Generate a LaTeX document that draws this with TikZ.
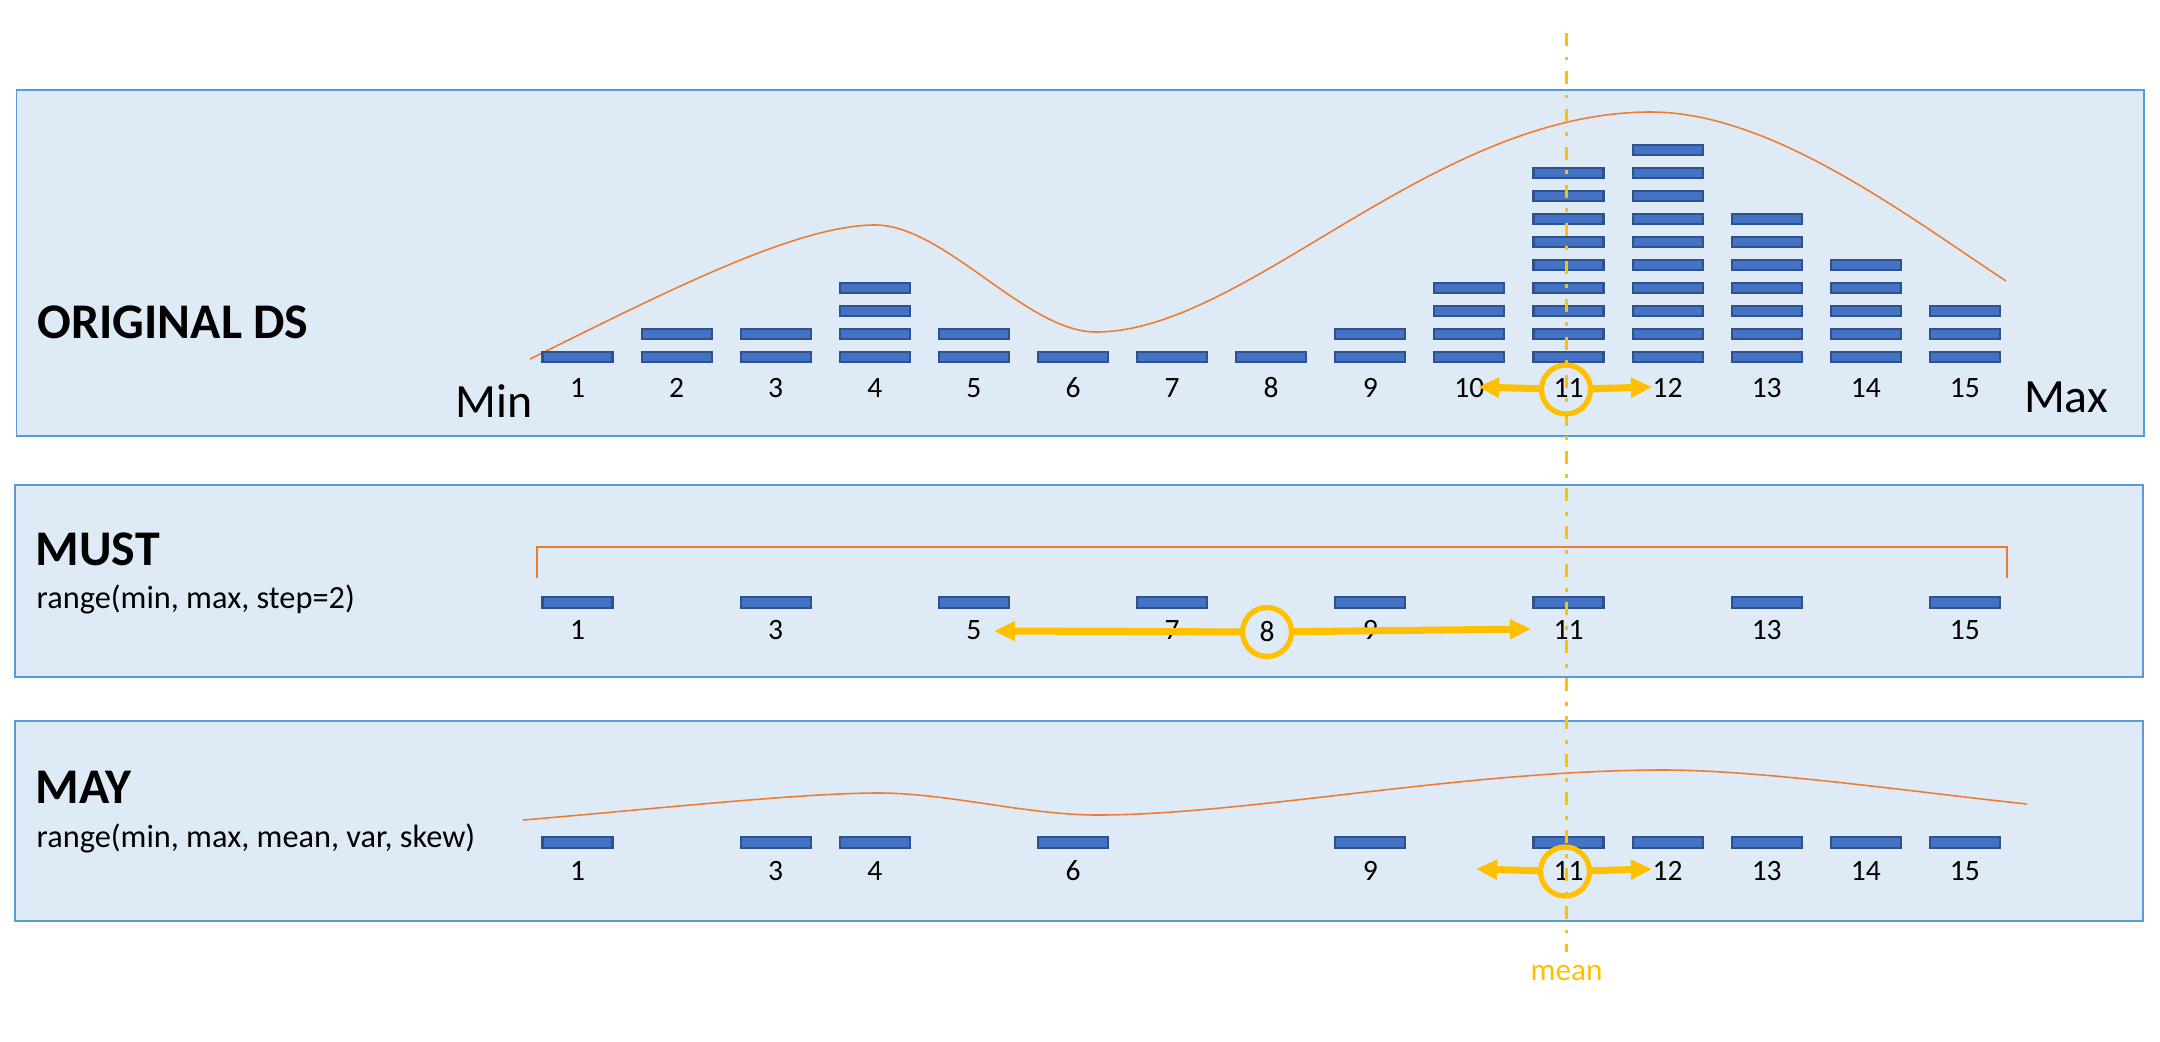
\documentclass[tikz,border=0pt]{standalone}
\usepackage{fontspec}
\setmainfont{Carlito}
\usetikzlibrary{arrows.meta}
\definecolor{panelfill}{HTML}{DEEBF7}
\definecolor{paneldraw}{HTML}{5B9BD5}
\definecolor{barfill}{HTML}{4472C4}
\definecolor{bardraw}{HTML}{2F528F}
\definecolor{curveorange}{HTML}{ED7D31}
\definecolor{meanyellow}{HTML}{FFC000}

\begin{document}
\begin{tikzpicture}[x=0.1mm, y=-0.1mm]
  \tikzset{panel/.style = {fill=panelfill, draw=paneldraw, line width=0.4pt}}
  \tikzset{bar/.style = {rectangle, fill=barfill, draw=bardraw, line width=0.6pt, minimum width=7mm, minimum height=1.07mm, inner sep=0}}
  \tikzset{num/.style = {font=\fontsize{8.4}{10}\selectfont, anchor=base}}
  \tikzset{title/.style = {font=\bfseries\fontsize{14.2}{17}\selectfont, anchor=west, inner sep=0}}
  \tikzset{call/.style = {font=\fontsize{9.2}{11}\selectfont, anchor=base west, inner sep=0}}
  \tikzset{bound/.style = {font=\fontsize{13.6}{16}\selectfont, anchor=base}}
  \tikzset{density/.style = {draw=curveorange, line width=0.45pt}}
  \tikzset{ring/.style = {circle, draw=meanyellow, line width=1.5pt, minimum size=4.9mm, inner sep=0}}
  \tikzset{move/.style = {draw=meanyellow, line width=2pt, -{Triangle[length=6pt, width=5.4pt]}}}
  \tikzset{meanline/.style = {draw=meanyellow, line width=0.85pt, dash pattern=on 3.7pt off 3pt on 1.1pt off 3pt}}

  \useasboundingbox (0,0) rectangle (2160,1041);

  \path[panel] (16.5,90) rectangle (2144,436);
  \path[panel] (15,485) rectangle (2143,677);
  \path[panel] (15,721) rectangle (2143,921);

  \node[title] (tOrig) at (37,322) {ORIGINAL DS};
  \node[title] (tMust) at (35,549) {MUST};
  \node[call] (cMust) at (36,608) {range(min, max, step=2)};
  \node[title] (tMay) at (35,787) {MAY};
  \node[call] (cMay) at (36,847) {range(min, max, mean, var, skew)};
  \node[bound] (min) at (494,417) {Min};
  \node[bound] (max) at (2066,412) {Max};

  \draw[density] (530,359) .. controls (660,295) and (795,225) .. (875,225)
    .. controls (945,225) and (1026,332) .. (1096,332)
    .. controls (1246,332) and (1431,112) .. (1651,112)
    .. controls (1771,112) and (1906,215) .. (2006,281);
  \draw[density] (537,578) -- (537,547) -- (2007,547) -- (2007,578);
  \draw[density] (523,820) .. controls (643,810) and (800,793) .. (878,793)
    .. controls (948,793) and (1027,815) .. (1097,815)
    .. controls (1247,815) and (1464,770) .. (1664,770)
    .. controls (1764,770) and (1930,794) .. (2027,804);

  \foreach \i/\n in {1/1, 2/2, 3/2, 4/4, 5/2, 6/1, 7/1, 8/1, 9/2, 10/4, 11/9, 12/10, 13/7, 14/5, 15/3} {
    \foreach \k in {1,...,\n}
      \node[bar] (o\i-\k) at ({577.5+99.1*(\i-1)}, {357-23*(\k-1)}) {};
    \node[num] (o\i) at ({577.5+99.1*(\i-1)}, 397) {\i};
  }
  \foreach \i in {1,3,...,15} {
    \node[bar] (m\i-1) at ({577.5+99.1*(\i-1)}, 602.5) {};
    \node[num] (m\i) at ({577.5+99.1*(\i-1)}, 639) {\i};
  }
  \foreach \i in {1,3,4,6,9,11,12,13,14,15} {
    \node[bar] (y\i-1) at ({577.5+99.1*(\i-1)}, 842.5) {};
    \node[num] (y\i) at ({577.5+99.1*(\i-1)}, 880) {\i};
  }

  \node[ring] (oring) at (1566,389.5) {};
  \coordinate (oleft) at (1478,387);
  \coordinate (oright) at (1652,387);
  \draw[move] (oring) -- (oleft);
  \draw[move] (oring) -- (oright);

  \node[ring, font=\fontsize{8.4}{10}\selectfont] (m8) at (1267,632) {8};
  \coordinate (mleft) at (994,631);
  \coordinate (mright) at (1531,629);
  \draw[move] (m8) -- (mleft);
  \draw[move] (m8) -- (mright);

  \node[ring] (yring) at (1565,871.5) {};
  \coordinate (yleft) at (1476,869);
  \coordinate (yright) at (1652,869);
  \draw[move] (yring) -- (yleft);
  \draw[move] (yring) -- (yright);

  \coordinate (meantop) at (1566.5,33);
  \node[font=\fontsize{8.9}{10}\selectfont, text=meanyellow, anchor=base, inner sep=3.5pt] (mean) at (1566.5,980) {mean};
  \draw[meanline] (meantop) -- (mean.north);
\end{tikzpicture}
\end{document}
